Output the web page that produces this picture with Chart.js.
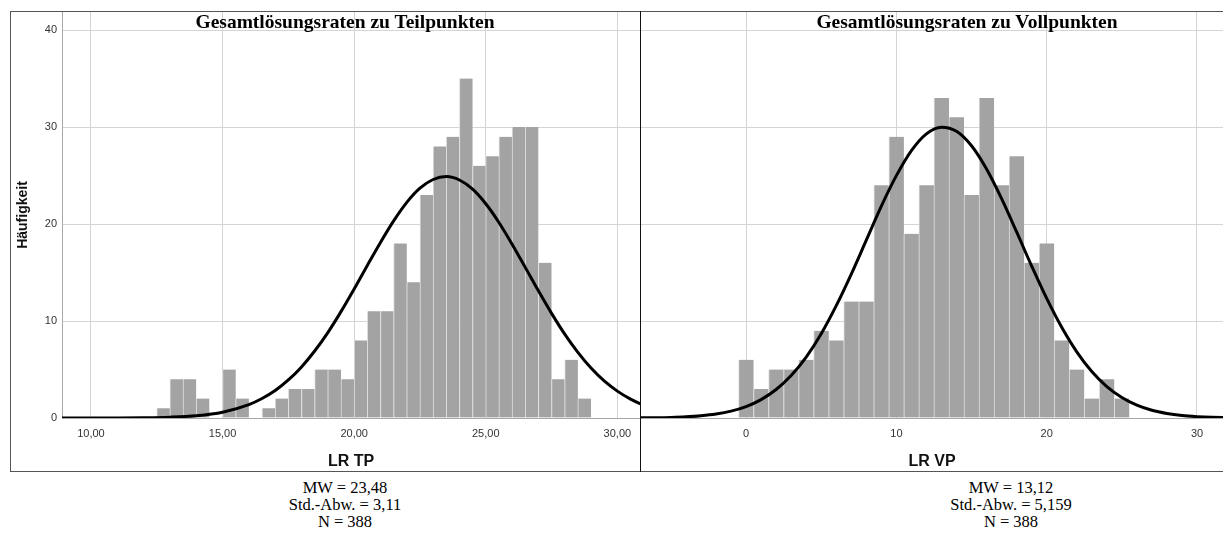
<!DOCTYPE html>
<html><head><meta charset="utf-8">
<script src="https://cdn.jsdelivr.net/npm/chart.js@4.4.1/dist/chart.umd.min.js"></script>
<style>
html,body{margin:0;padding:0;background:#fff;width:1223px;height:538px;overflow:hidden;}
#frame{position:absolute;left:10px;top:11px;width:1240px;height:461px;border:1px solid #555;box-sizing:border-box;}
#divider{position:absolute;left:640px;top:11px;width:1px;height:461px;background:#111;}
.box{position:absolute;top:12px;height:459px;}
#boxL{left:11px;width:629px;}
#boxR{left:641px;width:582px;}
.ttl{position:absolute;top:11px;transform:translateX(-50%);font:bold 19.5px 'Liberation Serif',serif;line-height:22px;white-space:nowrap;color:#000;}
.stats{position:absolute;top:479px;transform:translateX(-50%);font:16.5px 'Liberation Serif',serif;line-height:17px;text-align:center;white-space:nowrap;color:#000;}
</style></head>
<body>
<div id="frame"></div>
<div class="box" id="boxL"><canvas id="cL" width="629" height="459"></canvas></div>
<div class="box" id="boxR"><canvas id="cR" width="582" height="459"></canvas></div>
<div id="divider"></div>
<div class="ttl" id="tL" style="left:345px"></div>
<div class="ttl" id="tR" style="left:967px"></div>
<div class="stats" id="sL" style="left:345px"></div>
<div class="stats" id="sR" style="left:1011px"></div>
<script>
// ---- Data: left panel (LR TP) ----
const tpTitle = 'Gesamtlösungsraten zu Teilpunkten';
const tpAxisTitle = 'LR TP';
const tpBinCenters = [12.75,13.25,13.75,14.25,14.75,15.25,15.75,16.25,16.75,17.25,17.75,18.25,18.75,19.25,19.75,20.25,20.75,21.25,21.75,22.25,22.75,23.25,23.75,24.25,24.75,25.25,25.75,26.25,26.75,27.25,27.75,28.25,28.75];
const tpCounts     = [1,4,4,2,0,5,2,0,1,2,3,3,5,5,4,8,11,11,18,14,23,28,29,35,26,27,29,30,30,16,4,6,2];
const tpCurveX = [8,9,10,11,12,13,14,15,16,16.5,17,17.5,18,18.5,19,19.5,20,20.5,21,21.5,22,22.5,23,23.5,24,24.5,25,25.5,26,26.5,27,27.5,28,28.5,29,29.5,30,30.5,31,31.5,32];
const tpCurveY = [0,0,0.01,0.01,0.03,0.09,0.24,0.6,1.38,2.01,2.83,3.92,5.27,6.91,8.81,10.97,13.3,15.73,18.1,20.32,22.23,23.69,24.59,24.89,24.54,23.59,22.09,20.16,17.92,15.53,13.11,10.79,8.65,6.77,5.15,3.82,2.77,1.95,1.34,0.9,0.58];
const tpXTicks  = [10,15,20,25,30];
const tpXLabels = ['10,00','15,00','20,00','25,00','30,00'];
const tpStats = ['MW = 23,48','Std.-Abw. = 3,11','N = 388'];

// ---- Data: right panel (LR VP) ----
const vpTitle = 'Gesamtlösungsraten zu Vollpunkten';
const vpAxisTitle = 'LR VP';
const vpBinCenters = [0,1,2,3,4,5,6,7,8,9,10,11,12,13,14,15,16,17,18,19,20,21,22,23,24,25];
const vpCounts     = [6,3,5,5,6,9,8,12,12,24,29,19,24,33,31,23,33,24,27,16,18,8,5,2,4,2];
const vpCurveX = [-8,-7,-6,-5,-4,-3,-2,-1,0,1,2,3,4,5,6,7,8,9,10,11,12,13,14,15,16,17,18,19,20,21,22,23,24,25,26,27,28,29,30,31,32];
const vpCurveY = [0.01,0.02,0.03,0.06,0.12,0.23,0.41,0.71,1.18,1.9,2.94,4.38,6.28,8.69,11.58,14.84,18.34,21.85,24.99,27.57,29.3,29.99,29.57,28.07,25.67,22.61,19.18,15.67,12.33,9.35,6.82,4.79,3.24,2.12,1.33,0.8,0.47,0.26,0.14,0.07,0.04];
const vpXTicks  = [0,10,20,30];
const vpXLabels = ['0','10','20','30'];
const vpStats = ['MW = 13,12','Std.-Abw. = 5,159','N = 388'];

// ---- Shared ----
const yTicks = [0,10,20,30,40];
const yTickLabels = ['0','10','20','30','40'];
const yAxisTitle = 'Häufigkeit';

document.getElementById('tL').textContent = tpTitle;
document.getElementById('tR').textContent = vpTitle;
document.getElementById('sL').innerHTML = tpStats.join('<br>');
document.getElementById('sR').innerHTML = vpStats.join('<br>');

const SANS = "'Liberation Sans', Arial, sans-serif";
const GRID = '#d4d4d4';

function makeChart(id, centers, counts, cx, cy, xmin, xmax, xt, xl, xtitle, showY) {
  const ctx = document.getElementById(id).getContext('2d');
  return new Chart(ctx, {
    type: 'bar',
    data: {
      datasets: [
        { type:'line', data: cx.map((x,i)=>({x:x, y:cy[i]})), borderColor:'#000', borderWidth:3,
          pointRadius:0, fill:false, cubicInterpolationMode:'monotone', order:0 },
        { type:'bar', data: centers.map((c,i)=>({x:c, y:counts[i]})), backgroundColor:'#a3a3a3',
          borderColor:'#dedede', borderWidth:{left:1,right:0,top:0,bottom:0}, borderSkipped:false,
          categoryPercentage:1, barPercentage:1, grouped:false, order:1 }
      ]
    },
    options: {
      responsive:false, maintainAspectRatio:false, animation:false, devicePixelRatio:1,
      layout:{padding:0},
      plugins:{legend:{display:false}, tooltip:{enabled:false}},
      scales:{
        x:{ type:'linear', min:xmin, max:xmax, offset:false,
            afterBuildTicks:(s)=>{ s.ticks = xt.map(v=>({value:v})); },
            ticks:{ callback:(v,i)=>xl[i], font:{family:SANS,size:11}, color:'#333', padding:9, maxRotation:0, autoSkip:false },
            grid:{ color:GRID, drawTicks:false, offset:false },
            border:{ color:'#a8a8a8' },
            title:{ display:true, text:xtitle, font:{family:SANS,size:16,weight:'bold'}, color:'#111', padding:{top:0,bottom:0} },
            afterFit:(s)=>{ s.height = 53; s.paddingLeft = 0; s.paddingRight = 0; s.paddingTop = 0; s.paddingBottom = 0; } },
        y:{ type:'linear', min:0, max:41.86,
            afterBuildTicks:(s)=>{ s.ticks = yTicks.map(v=>({value:v})); },
            ticks:{ display:showY, callback:(v,i)=>yTickLabels[i], font:{family:SANS,size:11}, color:'#333', padding:5 },
            grid:{ color:GRID, drawTicks:false },
            border:{ display:showY, color:'#a8a8a8' },
            title:{ display:showY, text:yAxisTitle, font:{family:SANS,size:14,weight:'bold'}, color:'#111', padding:{top:4,bottom:0} },
            afterFit:(s)=>{ s.width = showY ? 51 : 0; s.paddingTop = 0; s.paddingBottom = 0; s.paddingLeft = 0; s.paddingRight = 0; } }
      }
    }
  });
}

makeChart('cL', tpBinCenters, tpCounts, tpCurveX, tpCurveY, 8.9, 30.86, tpXTicks, tpXLabels, tpAxisTitle, true);
makeChart('cR', vpBinCenters, vpCounts, vpCurveX, vpCurveY, -6.99, 31.73, vpXTicks, vpXLabels, vpAxisTitle, false);
</script>
</body></html>
